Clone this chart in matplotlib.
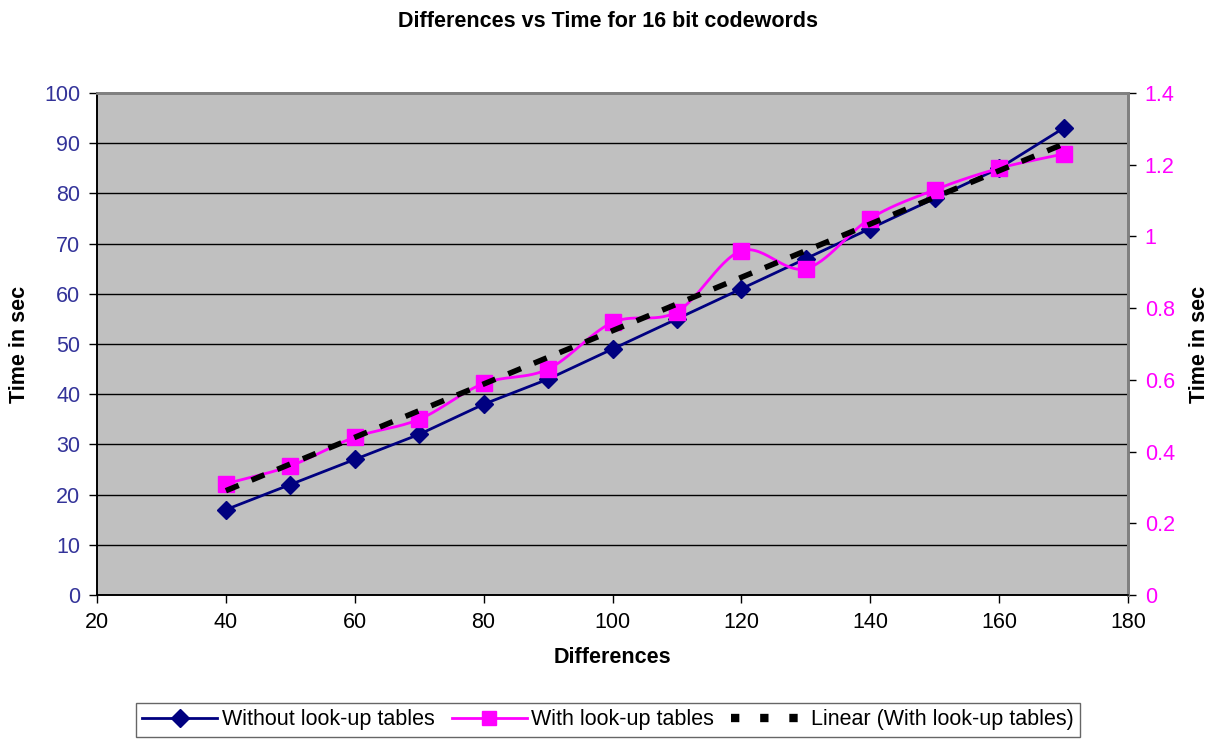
import numpy as np
import matplotlib.pyplot as plt

plt.rcParams['font.family'] = ['Liberation Sans', 'DejaVu Sans']

differences = [40, 50, 60, 70, 80, 90, 100, 110, 120, 130, 140, 150, 160, 170]
without_lut = [17, 22, 27, 32, 38, 43, 49, 55, 61, 67, 73, 79, 85, 93]
with_lut = [0.31, 0.36, 0.44, 0.49, 0.59, 0.63, 0.76, 0.79, 0.96, 0.91, 1.05, 1.13, 1.19, 1.23]


def smooth(x, y, n=30):
    # Catmull-Rom curve through the points, like a spreadsheet "smoothed line"
    x = np.asarray(x, float)
    y = np.asarray(y, float)
    px = np.concatenate([[2 * x[0] - x[1]], x, [2 * x[-1] - x[-2]]])
    py = np.concatenate([[2 * y[0] - y[1]], y, [2 * y[-1] - y[-2]]])
    xs, ys = [], []
    t = np.linspace(0, 1, n)
    for i in range(1, len(px) - 2):
        for p, out in ((px, xs), (py, ys)):
            p0, p1, p2, p3 = p[i - 1], p[i], p[i + 1], p[i + 2]
            out.append(0.5 * (2 * p1 + (-p0 + p2) * t
                              + (2 * p0 - 5 * p1 + 4 * p2 - p3) * t ** 2
                              + (-p0 + 3 * p1 - 3 * p2 + p3) * t ** 3))
    return np.concatenate(xs), np.concatenate(ys)


fig = plt.figure(figsize=(12.16, 7.39), dpi=100)
ax = fig.add_axes([97 / 1216, 1 - 595 / 739, 1031 / 1216, 502 / 739])
ax2 = ax.twinx()

ax.set_facecolor('#c0c0c0')
ax.set_xlim(20, 180)
ax.set_ylim(0, 100)
ax2.set_ylim(0, 1.4)
ax.set_xticks(range(20, 181, 20))
ax.set_yticks(range(0, 101, 10))
ax2.set_yticks([0, 0.2, 0.4, 0.6, 0.8, 1, 1.2, 1.4])
ax2.set_yticklabels(['0', '0.2', '0.4', '0.6', '0.8', '1', '1.2', '1.4'])
ax.yaxis.grid(True, color='black', linewidth=1)
ax.set_axisbelow(True)

for a in (ax, ax2):
    for s in a.spines.values():
        s.set_color('#808080')
        s.set_linewidth(2)
    a.spines['left'].set_color('black')
    a.spines['left'].set_linewidth(1.2)
    a.spines['bottom'].set_color('black')
    a.spines['bottom'].set_linewidth(1.2)
    a.tick_params(direction='out', length=6, width=1, labelsize=15.5, pad=6)

ax.tick_params(axis='y', labelcolor='#333399')
ax2.tick_params(axis='y', labelcolor='#ff00ff')

l1, = ax.plot(differences, without_lut, color='#000080', linewidth=2,
              marker='D', markersize=9, label='Without look-up tables')

sx, sy = smooth(differences, with_lut)
ax2.plot(sx, sy, color='#ff00ff', linewidth=2)
ax2.plot(differences, with_lut, linestyle='none', marker='s', markersize=12,
         color='#ff00ff')
l2, = ax2.plot([], [], color='#ff00ff', linewidth=2, marker='s', markersize=10,
               label='With look-up tables')

# linear trend of the look-up table timings
k, b = np.polyfit(differences, with_lut, 1)
tx = np.array([differences[0], differences[-1]])
l3, = ax2.plot(tx, k * tx + b, color='black', linewidth=4, dashes=(2.5, 2.5),
               label='Linear (With look-up tables)')
l3_leg, = ax2.plot([], [], color='black', linewidth=6, dashes=(1, 2.5),
                   label='Linear (With look-up tables)')

ax.set_xlabel('Differences', fontsize=15.5, fontweight='bold', labelpad=10)
ax.set_ylabel('Time in sec', fontsize=15.5, fontweight='bold', labelpad=10)
ax2.set_ylabel('Time in sec', fontsize=15.5, fontweight='bold', labelpad=10)
fig.suptitle('Differences vs Time for 16 bit codewords', fontsize=15.5,
             fontweight='bold', y=0.985)

leg = fig.legend(handles=[l1, l2, l3_leg], loc='lower center', ncol=3,
                 bbox_to_anchor=(0.5, 0.0), fontsize=15.5, frameon=True,
                 fancybox=False, edgecolor='#404040', handlelength=3.5,
                 columnspacing=0.8, handletextpad=0.2, borderpad=0.3,
                 borderaxespad=0.1)
leg.get_frame().set_linewidth(1)

fig.savefig('out.png', dpi=100)
